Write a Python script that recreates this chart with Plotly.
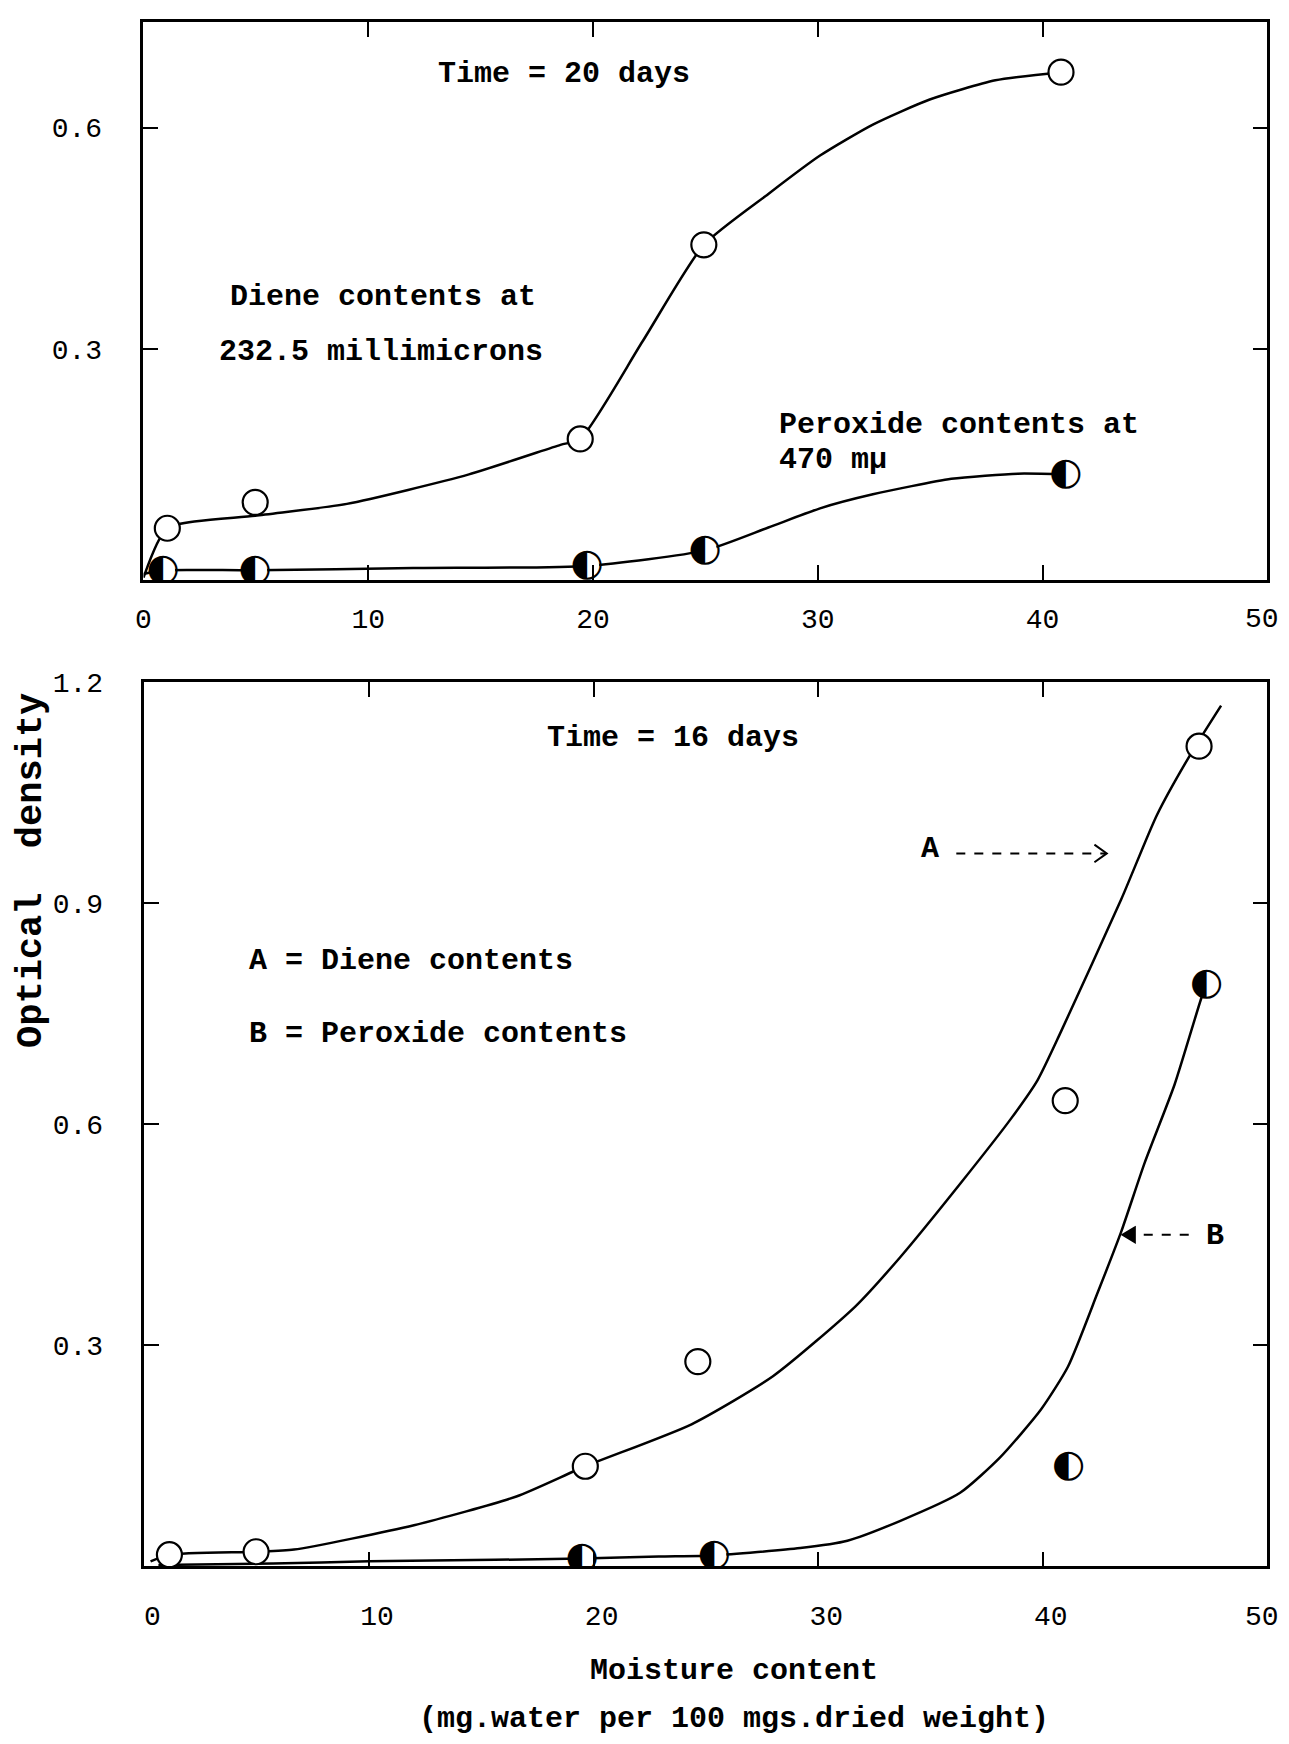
import plotly.graph_objects as go

FONT = "Liberation Mono"

# ---------------- data ----------------
x_ticks = [0, 10, 20, 30, 40]
x_tick_labels = ["0", "10", "20", "30", "40"]
x_last_label = "50"
top_y_ticks = [0.3, 0.6]
top_y_tick_labels = ["0.3", "0.6"]
bot_y_ticks = [0.3, 0.6, 0.9, 1.2]
bot_y_tick_labels = ["0.3", "0.6", "0.9", "1.2"]

# Top panel (Time = 20 days)
top_diene_x = [1.06, 4.97, 19.43, 24.93, 40.82]
top_diene_y = [0.057, 0.092, 0.178, 0.441, 0.675]
top_perox_x = [0.87, 4.97, 19.74, 24.98, 41.04]
top_perox_y = [0.0, 0.0, 0.006, 0.027, 0.130]
top_diene_curve_x = [0.0, 1.06, 4.97, 9.05, 14.48, 18.55, 19.43, 22.2, 24.93, 27.8, 30.1, 32.45, 34.98, 37.9, 40.82]
top_diene_curve_y = [-0.01, 0.057, 0.074, 0.090, 0.130, 0.170, 0.178, 0.31, 0.441, 0.51, 0.562, 0.604, 0.638, 0.664, 0.675]
top_perox_curve_x = [0.0, 0.87, 4.97, 12.0, 19.74, 24.98, 27.8, 30.1, 32.45, 35.94, 38.9, 41.04]
top_perox_curve_y = [-0.005, 0.0, 0.0, 0.003, 0.006, 0.027, 0.058, 0.084, 0.103, 0.124, 0.131, 0.130]

# Bottom panel (Time = 16 days)
bot_diene_x = [1.11, 4.97, 19.63, 24.64, 41.0, 46.96]
bot_diene_y = [0.016, 0.020, 0.136, 0.278, 0.632, 1.113]
bot_perox_x = [19.49, 25.38, 41.15, 47.3]
bot_perox_y = [0.011, 0.015, 0.136, 0.790]
bot_a_curve_x = [0.27, 1.11, 4.97, 6.66, 12.0, 16.56, 19.63, 24.36, 28.0, 31.66, 33.66, 36.34, 38.57, 39.77, 40.8, 43.49, 45.09, 46.56, 47.94]
bot_a_curve_y = [0.007, 0.016, 0.020, 0.023, 0.056, 0.095, 0.136, 0.193, 0.2585, 0.353, 0.42, 0.52, 0.607, 0.66, 0.725, 0.905, 1.020, 1.101, 1.168]
bot_b_curve_x = [0.62, 5.73, 10.0, 15.6, 19.49, 22.9, 25.38, 29.2, 31.3, 33.66, 36.32, 38.1, 39.92, 41.12, 42.45, 43.49, 44.54, 45.87, 47.07, 47.3]
bot_b_curve_y = [0.002, 0.004, 0.007, 0.009, 0.011, 0.0136, 0.015, 0.025, 0.035, 0.062, 0.100, 0.148, 0.213, 0.271, 0.372, 0.454, 0.548, 0.654, 0.772, 0.790]

# ---------------- geometry ----------------
FW, FH = 1273, 1728
# empirical mapping from target page pixels to figure pixels
SX, CX = 0.9965, 13.2
SY, CY = 0.992, 19.4


def fx(p):
    return p / SX - CX


def fy(p):
    return p / SY - CY


def xdom(p0, p1):
    return [fx(p0) / FW, fx(p1) / FW]


def ydom(pb, pt):
    return [1 - fy(pb) / FH, min(1.0, 1 - fy(pt) / FH)]


fig = go.Figure()


def curve(x, y, xa, ya):
    fig.add_trace(go.Scatter(x=x, y=y, mode="lines", xaxis=xa, yaxis=ya,
                             line=dict(color="black", width=2.5, shape="spline", smoothing=0.6),
                             hoverinfo="skip", showlegend=False))


def open_pts(x, y, xa, ya):
    fig.add_trace(go.Scatter(x=x, y=y, mode="markers", xaxis=xa, yaxis=ya,
                             marker=dict(symbol="circle", size=25, color="white",
                                         line=dict(color="black", width=2.2)),
                             showlegend=False))


def half_pts(x, y, xa, ya):
    fig.add_trace(go.Scatter(x=x, y=y, mode="markers", xaxis=xa, yaxis=ya,
                             marker=dict(symbol="circle", size=24, color="white",
                                         line=dict(width=0)),
                             showlegend=False, hoverinfo="skip"))
    fig.add_trace(go.Scatter(x=x, y=y, mode="text", xaxis=xa, yaxis=ya,
                             text=["\u25D0"] * len(x), textposition="middle center",
                             textfont=dict(family="DejaVu Sans", size=38, color="black"),
                             showlegend=False))


curve(top_diene_curve_x, top_diene_curve_y, "x", "y")
curve(top_perox_curve_x, top_perox_curve_y, "x", "y")
open_pts(top_diene_x, top_diene_y, "x", "y")
half_pts(top_perox_x, top_perox_y, "x", "y")

curve(bot_a_curve_x, bot_a_curve_y, "x2", "y2")
curve(bot_b_curve_x, bot_b_curve_y, "x2", "y2")
open_pts(bot_diene_x, bot_diene_y, "x2", "y2")
half_pts(bot_perox_x, bot_perox_y, "x2", "y2")

tick_font = dict(family=FONT, size=28, color="black")
axis_common = dict(showline=True, linewidth=2.5, linecolor="black", mirror="ticks",
                   ticks="inside", ticklen=15, tickwidth=2, tickcolor="black",
                   showgrid=False, zeroline=False, tickfont=tick_font)

# top panel: y=0 at page 568.3, 0.3 per 221.3 px; top border at page 20.4
top_y_lo = (568.3 - 578) * 0.3 / 221.3
top_y_hi = (568.3 - 20.4) * 0.3 / 221.3

fig.update_layout(
    width=FW, height=FH,
    margin=dict(l=0, r=0, t=0, b=0),
    paper_bgcolor="white", plot_bgcolor="white",
    showlegend=False,
    xaxis=dict(axis_common, domain=xdom(141, 1268), range=[0, 50], anchor="y",
               tickvals=x_ticks, ticktext=x_tick_labels, ticklabelstandoff=12),
    yaxis=dict(axis_common, domain=ydom(578, 20.4), range=[top_y_lo, top_y_hi], anchor="x",
               tickvals=top_y_ticks, ticktext=top_y_tick_labels, ticklabelstandoff=33),
    xaxis2=dict(axis_common, domain=xdom(142, 1268), range=[0, 50], anchor="y2",
                tickvals=x_ticks, ticktext=x_tick_labels, ticklabelstandoff=22,
                ticklabelshift=8),
    yaxis2=dict(axis_common, domain=ydom(1564, 680), range=[0, 1.2], anchor="x2",
                tickvals=bot_y_ticks, ticktext=bot_y_tick_labels, ticklabelstandoff=33),
)

# mirrored top/right tick marks at 50 coincide with the border; label it inside the page
for yl in (617, 1615):
    fig.add_annotation(text=x_last_label, x=1.0, y=1 - fy(yl) / FH, xref="paper", yref="paper",
                       xanchor="right", yanchor="middle", showarrow=False, font=tick_font)

tf = dict(family=FONT, size=30, color="black", weight="bold")
ann = [
    dict(text="Time = 20 days", x=18.7, y=0.672, xref="x", yref="y", xanchor="center"),
    dict(text="Diene contents at", x=3.77, y=0.371, xref="x", yref="y", xanchor="left"),
    dict(text="232.5 millimicrons", x=3.28, y=0.296, xref="x", yref="y", xanchor="left"),
    dict(text="Peroxide contents at", x=28.17, y=0.197, xref="x", yref="y", xanchor="left"),
    dict(text="470 m\u03bc", x=28.17, y=0.150, xref="x", yref="y", xanchor="left"),
    dict(text="Time = 16 days", x=23.53, y=1.124, xref="x2", yref="y2", xanchor="center"),
    dict(text="A = Diene contents", x=4.57, y=0.821, xref="x2", yref="y2", xanchor="left"),
    dict(text="B = Peroxide contents", x=4.57, y=0.722, xref="x2", yref="y2", xanchor="left"),
    dict(text="A", x=35.0, y=0.973, xref="x2", yref="y2", xanchor="center"),
    dict(text="B", x=47.65, y=0.449, xref="x2", yref="y2", xanchor="center"),
    dict(text="Optical  density", x=fx(28) / FW, y=1 - fy(868) / FH, xref="paper", yref="paper",
         xanchor="center", textangle=-90,
         font=dict(family=FONT, size=37, color="black", weight="bold")),
    dict(text="Moisture content", x=fx(733) / FW, y=1 - fy(1668) / FH, xref="paper", yref="paper",
         xanchor="center"),
    dict(text="(mg.water per 100 mgs.dried weight)", x=fx(733) / FW, y=1 - 1711 / FH,
         xref="paper", yref="paper", xanchor="center"),
]
for a in ann:
    a.setdefault("font", tf)
    a["showarrow"] = False
    a.setdefault("yanchor", "middle")
    fig.add_annotation(**a)

# dashed pointer arrows
fig.add_shape(type="line", xref="x2", yref="y2", x0=36.15, y0=0.9675, x1=42.8, y1=0.9675,
              line=dict(color="black", width=2, dash="dash"))
fig.add_shape(type="path", xref="x2", yref="y2",
              path="M 42.3,0.9795 L 42.85,0.9675 L 42.3,0.9555",
              line=dict(color="black", width=2))
fig.add_shape(type="line", xref="x2", yref="y2", x0=46.5, y0=0.45, x1=43.6, y1=0.45,
              line=dict(color="black", width=2, dash="dash"))
fig.add_shape(type="path", xref="x2", yref="y2",
              path="M 44.1,0.46 L 43.55,0.45 L 44.1,0.44 Z",
              fillcolor="black", line=dict(color="black", width=2))

fig.write_html("out.html")
